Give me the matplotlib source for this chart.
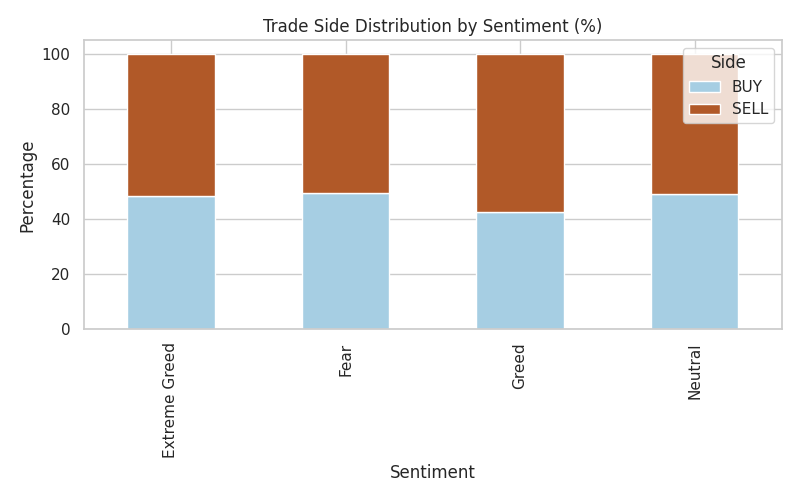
import pandas as pd
import matplotlib
matplotlib.use('Agg')
import matplotlib.pyplot as plt
import seaborn as sns

sns.set_theme(style='whitegrid')

sentiments = ['Extreme Greed', 'Fear', 'Greed', 'Neutral']
buy_pct = [48.5, 49.5, 42.6, 49.2]
sell_pct = [100 - b for b in buy_pct]

df = pd.DataFrame({'BUY': buy_pct, 'SELL': sell_pct}, index=sentiments)
df.index.name = 'Sentiment'
df.columns.name = 'Side'

fig, ax = plt.subplots(figsize=(8, 5), dpi=100)
df.plot(kind='bar', stacked=True, colormap='Paired', ax=ax)
ax.set_title('Trade Side Distribution by Sentiment (%)')
ax.set_ylabel('Percentage')
ax.set_xlabel('Sentiment')
ax.legend(title='Side', loc='upper right')
plt.tight_layout()
plt.savefig('out.png')
